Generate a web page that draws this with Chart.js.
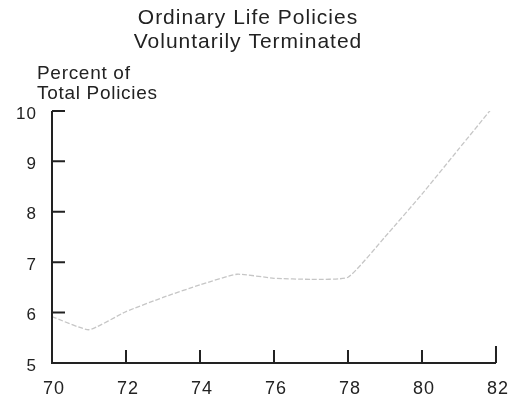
<!DOCTYPE html>
<html><head><meta charset="utf-8">
<script src="https://cdn.jsdelivr.net/npm/chart.js@4"></script>
<style>html,body{margin:0;padding:0;background:#fff}#wrap{width:521px;height:395px}</style>
</head><body><div id="wrap"><canvas id="c" width="521" height="395"></canvas></div>
<script>
const titleLines = ["Ordinary Life Policies", "Voluntarily Terminated"];
const yAxisLabel = ["Percent of", "Total Policies"];
const years = [70, 71, 72, 73, 74, 75, 76, 77, 78, 79, 80, 81, 82];
const percentTerminated = [5.92, 5.66, 6.02, 6.3, 6.55, 6.76, 6.68, 6.66, 6.7, 7.5, 8.35, 9.25, 10.15];
const xTicks = [70, 72, 74, 76, 78, 80, 82];
const yTicks = [5, 6, 7, 8, 9, 10];

const FONT = "'Liberation Sans', Arial, Helvetica, sans-serif";
const INK = '#222';

const spacing = {
  id: 'spacing',
  beforeDraw(chart) { chart.ctx.letterSpacing = '1px'; },
  afterDraw(chart) { chart.ctx.letterSpacing = '0px'; }
};

const inwardTicks = {
  id: 'inwardTicks',
  afterDraw(chart) {
    const ctx = chart.ctx, xs = chart.scales.x, ys = chart.scales.y;
    const left = xs.getPixelForValue(70), right = xs.getPixelForValue(82);
    const top = ys.getPixelForValue(10), bottom = ys.getPixelForValue(5);
    ctx.save();
    ctx.strokeStyle = INK; ctx.lineWidth = 2; ctx.lineCap = 'butt';
    ctx.beginPath();
    ctx.moveTo(left, top); ctx.lineTo(left, bottom); ctx.lineTo(right, bottom);
    yTicks.forEach(v => { if (v > 5) { const p = ys.getPixelForValue(v); ctx.moveTo(left, p); ctx.lineTo(left + 13, p); } });
    xTicks.forEach(v => { if (v > 70) { const p = xs.getPixelForValue(v); ctx.moveTo(p, bottom); ctx.lineTo(p, bottom - (v === 82 ? 17 : 13)); } });
    ctx.stroke();
    ctx.fillStyle = INK; ctx.font = "19px " + FONT; ctx.textAlign = 'left'; ctx.textBaseline = 'alphabetic';
    ctx.letterSpacing = '0.7px';
    ctx.fillText(yAxisLabel[0], left - 15, top - 32);
    ctx.fillText(yAxisLabel[1], left - 15, top - 12);
    ctx.restore();
  }
};

new Chart(document.getElementById('c'), {
  type: 'line',
  data: { datasets: [{
    data: years.map((y, i) => ({ x: y, y: percentTerminated[i] })),
    borderColor: '#c6c6c6', borderWidth: 1.3, borderDash: [5, 2], pointRadius: 0, tension: 0.15, fill: false
  }]},
  options: {
    responsive: false, animation: false,
    layout: { padding: { left: 0, right: 25, top: 6, bottom: 0 } },
    plugins: {
      legend: { display: false }, tooltip: { enabled: false },
      title: { display: true, text: titleLines, color: INK, font: { family: FONT, size: 21, weight: 'normal', lineHeight: 1.14 }, padding: { top: 0, bottom: 57 } }
    },
    scales: {
      x: { type: 'linear', min: 70, max: 82,
        grid: { display: false, drawTicks: false }, border: { display: false },
        afterBuildTicks: s => { s.ticks = xTicks.map(v => ({ value: v })); },
        afterFit: s => { s.height = 32; },
        ticks: { color: INK, font: { family: FONT, size: 18 }, padding: 15, maxRotation: 0, labelOffset: 2 } },
      y: { min: 5, max: 10,
        grid: { display: false, drawTicks: false }, border: { display: false },
        afterBuildTicks: s => { s.ticks = yTicks.map(v => ({ value: v })); },
        afterFit: s => { s.width = 52; },
        ticks: { color: INK, font: { family: FONT, size: 17 }, padding: 15, labelOffset: 3 } }
    }
  },
  plugins: [spacing, inwardTicks]
});
</script></body></html>
